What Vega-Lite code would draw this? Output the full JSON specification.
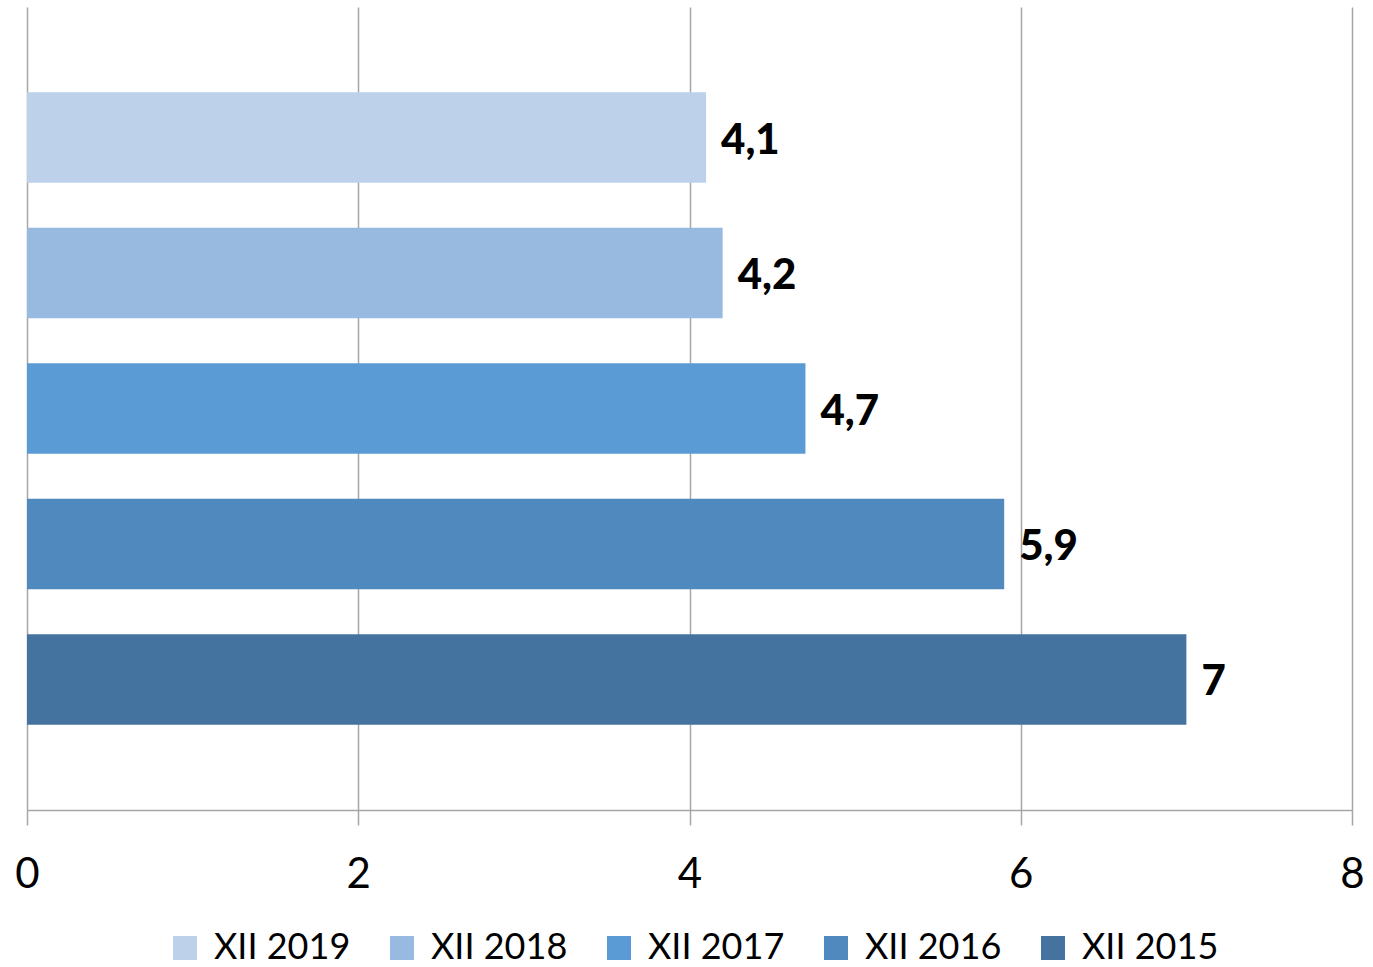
{
  "$schema": "https://vega.github.io/schema/vega-lite/v6.json",
  "width": 1325,
  "height": 803,
  "padding": {"left": 27, "top": 7, "right": 21, "bottom": 157},
  "autosize": {"type": "none"},
  "background": "white",
  "config": {
    "view": {"stroke": null},
    "font": "Lato"
  },
  "data": {
    "values": [
      {"year": "XII 2019", "value": 4.1, "label": "4,1"},
      {"year": "XII 2018", "value": 4.2, "label": "4,2"},
      {"year": "XII 2017", "value": 4.7, "label": "4,7"},
      {"year": "XII 2016", "value": 5.9, "label": "5,9"},
      {"year": "XII 2015", "value": 7, "label": "7"}
    ]
  },
  "encoding": {
    "y": {
      "field": "year",
      "type": "nominal",
      "sort": ["XII 2019", "XII 2018", "XII 2017", "XII 2016", "XII 2015"],
      "scale": {"paddingInner": 0.333, "paddingOuter": 0.63},
      "axis": null
    },
    "x": {
      "field": "value",
      "type": "quantitative",
      "scale": {"domain": [0, 8], "nice": false},
      "axis": {
        "values": [0, 2, 4, 6, 8],
        "title": null,
        "grid": true,
        "gridColor": "#a6a6a6",
        "gridWidth": 1.5,
        "domainColor": "#a6a6a6",
        "domainWidth": 1.5,
        "tickColor": "#a6a6a6",
        "tickWidth": 1.5,
        "tickSize": 15,
        "labelFontSize": 42,
        "labelColor": "#000000",
        "labelPadding": 29,
        "labelFlush": false,
        "labelFont": "Lato"
      }
    }
  },
  "layer": [
    {
      "mark": {"type": "bar"},
      "encoding": {
        "color": {
          "field": "year",
          "type": "nominal",
          "sort": ["XII 2019", "XII 2018", "XII 2017", "XII 2016", "XII 2015"],
          "scale": {
            "domain": ["XII 2019", "XII 2018", "XII 2017", "XII 2016", "XII 2015"],
            "range": ["#BDD1EA", "#99BAE0", "#5B9BD5", "#4F89BD", "#44739F"]
          },
          "legend": {
            "orient": "none",
            "legendX": 140,
            "legendY": 923,
            "direction": "horizontal",
            "columns": 5,
            "title": null,
            "padding": 0,
            "symbolType": "square",
            "symbolSize": 576,
            "symbolStrokeWidth": 0,
            "labelFontSize": 36,
            "labelColor": "#000000",
            "labelOffset": 11,
            "columnPadding": 33,
            "labelLimit": 300
          }
        }
      }
    },
    {
      "mark": {"type": "text", "align": "left", "dx": 15, "dy": 3, "fontSize": 42, "fontWeight": 900, "color": "#000000", "baseline": "middle"},
      "encoding": {
        "text": {"field": "label"}
      }
    }
  ]
}
